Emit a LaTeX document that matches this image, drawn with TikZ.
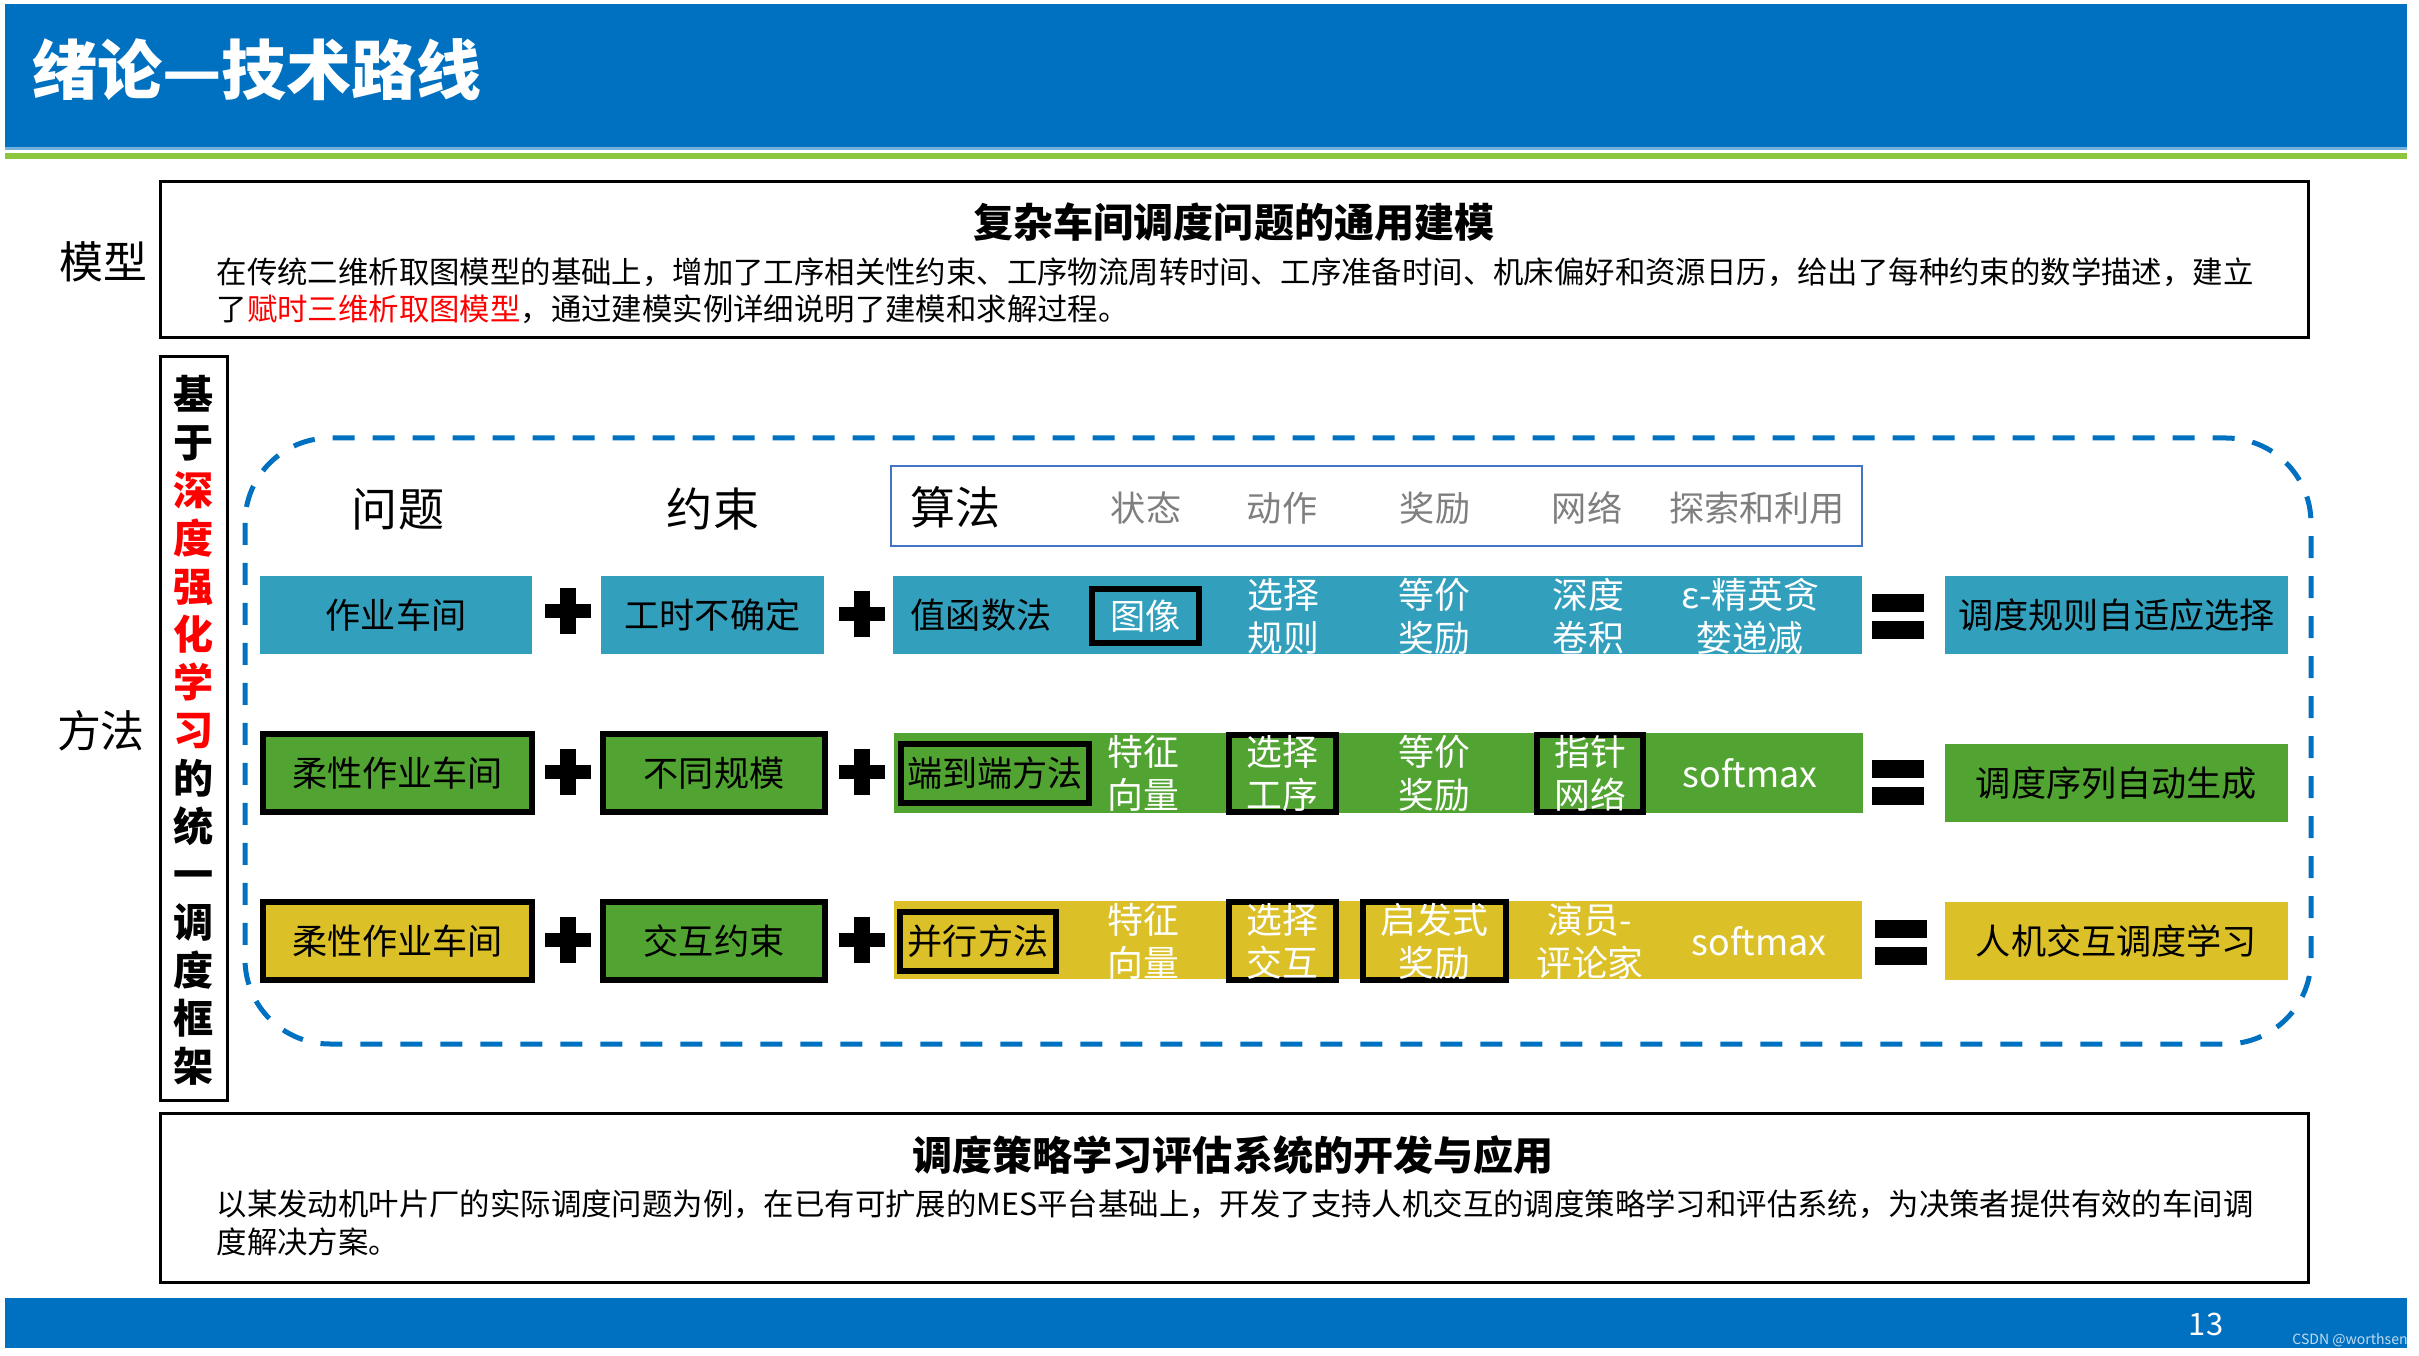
\documentclass[tikz,border=0pt]{standalone}
\usepackage{fontspec}
\setmainfont{Noto Sans CJK SC}
\usepackage{xcolor}
\usetikzlibrary{positioning}
\definecolor{hdrblue}{RGB}{0,112,192}
\definecolor{hdrgreen}{RGB}{140,198,63}
\definecolor{tealc}{RGB}{50,160,189}
\definecolor{greenc}{RGB}{82,164,50}
\definecolor{yellowc}{RGB}{220,192,40}
\definecolor{algoframe}{RGB}{68,114,196}
\definecolor{greytxt}{RGB}{127,127,127}
\tikzset{
  sidelabel/.style={font=\fontsize{12.5pt}{15pt}\selectfont},
  panel/.style={draw, line width=0.3mm, minimum width=214.8mm, inner sep=0},
  paneltitle/.style={font=\fontsize{11.4pt}{13.7pt}\selectfont\bfseries},
  paneltext/.style={align=left, anchor=west, inner sep=0, font=\fontsize{8.65pt}{10.5pt}\selectfont},
  colhead/.style={font=\fontsize{13.1pt}{15pt}\selectfont},
  algohead/.style={text=greytxt, font=\fontsize{10pt}{12pt}\selectfont},
  cell/.style={inner sep=0, minimum height=7.8mm, align=center, font=\fontsize{10pt}{12pt}\selectfont},
  framed/.style={draw=black, line width=0.6mm},
  item/.style={text=white, align=center, inner sep=0, font=\fontsize{10.2pt}{12.2pt}\selectfont},
  dashframe/.style={draw=hdrblue, line width=0.5mm, dash pattern=on 2.2mm off 1.8mm, rounded corners=8.5mm},
  every node/.style={inner sep=1pt}
}
\begin{document}
\begin{tikzpicture}[x=0.1mm,y=-0.1mm]
  \useasboundingbox (0,0) rectangle (2419,1356);
  % header and footer bands
  \fill[hdrblue] (5,4) rectangle (2407,149);
  \fill[hdrblue!55!white] (5,147) rectangle (2407,150);
  \fill[hdrgreen] (5,153) rectangle (2407,159);
  \node[anchor=west, text=white, font=\fontsize{18.5pt}{22pt}\selectfont\bfseries] (title) at (28,70) {绪论—技术路线};
  \fill[hdrblue] (5,1298) rectangle (2407,1348);
  \node[text=white, font=\fontsize{8.8pt}{10pt}\selectfont] (pagenum) at (2206,1324) {13};
  \node[text=white!75!hdrblue, font=\fontsize{4pt}{5pt}\selectfont] (mark) at (2350,1340) {CSDN @worthsen};

  % model panel
  \node[sidelabel] (lblmodel) at (103,262) {模型};
  \node[panel, minimum height=15.6mm] (modelbox) at (1234,260) {};
  \node[paneltitle] (modeltitle) at (1234,222) {复杂车间调度问题的通用建模};
  \node[paneltext] (modeltext) at (216,291) {在传统二维析取图模型的基础上，增加了工序相关性约束、工序物流周转时间、工序准备时间、机床偏好和资源日历，给出了每种约束的数学描述，建立\\了\textcolor{red}{赋时三维析取图模型}，通过建模实例详细说明了建模和求解过程。};

  % method panel
  \node[sidelabel] (lblmethod) at (101,731) {方法};
  \node[draw, line width=0.3mm, minimum width=6.7mm, minimum height=74.4mm, inner sep=0] (vbox) at (193.5,728) {};
  \node[align=center, font=\fontsize{11.4pt}{13.66pt}\selectfont\bfseries] (vtext) at (194,730)
    {基\\于\\\textcolor{red}{深}\\\textcolor{red}{度}\\\textcolor{red}{强}\\\textcolor{red}{化}\\\textcolor{red}{学}\\\textcolor{red}{习}\\的\\统\\一\\调\\度\\框\\架};
  \draw[dashframe] (245,438) rectangle (2311,1044);

  % column heads
  \node[colhead] (hproblem) at (398,509) {问题};
  \node[colhead] (hconstr) at (713,509) {约束};
  \node[draw=algoframe, line width=0.2mm, minimum width=97.1mm, minimum height=8mm, inner sep=0] (halgo) at (1376.5,506) {};
  \node[font=\fontsize{12.8pt}{15pt}\selectfont] (halgotxt) at (955,507) {算法};
  \foreach \x/\t/\n in {1146/状态/st, 1282/动作/ac, 1435/奖励/rw, 1587/网络/nt, 1757/探索和利用/ex}
    \node[algohead] (h-\n) at (\x,508) {\t};

  % row 1
  \node[cell, fill=tealc, minimum width=27.2mm] (p1) at (396,615) {作业车间};
  \node[cell, fill=tealc, minimum width=22.3mm] (c1) at (712.5,615) {工时不确定};
  \node[cell, fill=tealc, minimum width=96.9mm] (a1) at (1377.5,615) {};
  \node[cell, fill=tealc, minimum width=34.3mm] (r1) at (2116.5,615) {调度规则自适应选择};
  \node[cell] (a1m) at (981,615) {值函数法};
  \node[cell, framed, text=white, minimum width=10.7mm, minimum height=5.4mm] (a1s) at (1145.5,616) {图像};
  \foreach \x/\t/\n in {1283/{选择\\规则}/ac, 1434/{等价\\奖励}/rw, 1588/{深度\\卷积}/nt, 1750/{ε-精英贪\\婪递减}/ex}
    \node[item] (a1-\n) at (\x,616) {\t};

  % row 2
  \node[cell, framed, fill=greenc, minimum width=26.9mm] (p2) at (397.5,773) {柔性作业车间};
  \node[cell, framed, fill=greenc, minimum width=22.2mm] (c2) at (714,773) {不同规模};
  \node[cell, fill=greenc, minimum width=96.9mm, minimum height=8mm] (a2) at (1378.5,773) {};
  \node[cell, fill=greenc, minimum width=34.3mm] (r2) at (2116.5,783) {调度序列自动生成};
  \node[cell, framed, minimum width=18.8mm, minimum height=5.9mm] (a2m) at (995,773.5) {端到端方法};
  \node[cell, framed, text=white, minimum width=10.7mm, minimum height=7.7mm, font=\fontsize{10.2pt}{12.2pt}\selectfont] (a2a) at (1282.5,773.5) {选择\\工序};
  \node[cell, framed, text=white, minimum width=10.6mm, minimum height=7.7mm, font=\fontsize{10.2pt}{12.2pt}\selectfont] (a2n) at (1590,773.5) {指针\\网络};
  \foreach \x/\t/\n in {1143/{特征\\向量}/st, 1434/{等价\\奖励}/rw, 1750/softmax/ex}
    \node[item] (a2-\n) at (\x,773) {\t};

  % row 3
  \node[cell, framed, fill=yellowc, minimum width=26.9mm] (p3) at (397.5,941) {柔性作业车间};
  \node[cell, framed, fill=greenc, minimum width=22.2mm] (c3) at (714,941) {交互约束};
  \node[cell, fill=yellowc, minimum width=96.8mm] (a3) at (1378,940) {};
  \node[cell, fill=yellowc, minimum width=34.3mm] (r3) at (2116.5,941) {人机交互调度学习};
  \node[cell, framed, minimum width=15.6mm, minimum height=5.9mm] (a3m) at (978,941.5) {并行方法};
  \node[cell, framed, text=white, minimum width=10.7mm, font=\fontsize{10.2pt}{12.2pt}\selectfont] (a3a) at (1282.5,941) {选择\\交互};
  \node[cell, framed, text=white, minimum width=14.3mm, font=\fontsize{10.2pt}{12.2pt}\selectfont] (a3r) at (1434.5,941) {启发式\\奖励};
  \foreach \x/\t/\n in {1143/{特征\\向量}/st, 1590/{演员-\\评论家}/nt, 1759/softmax/ex}
    \node[item] (a3-\n) at (\x,941) {\t};

  % plus and equals signs
  \foreach \x/\y in {568/611, 862/614, 568/772, 862/772, 568/940, 862/940}{
    \fill (\x-23,\y-7) rectangle (\x+23,\y+7);
    \fill (\x-8,\y-23) rectangle (\x+8,\y+23);
  }
  \foreach \x/\y in {1898/616.5, 1898/782.5, 1901/942.5}{
    \fill (\x-26,\y-22.5) rectangle (\x+26,\y-4.5);
    \fill (\x-26,\y+4.5) rectangle (\x+26,\y+22.5);
  }

  % application panel
  \node[panel, minimum height=16.9mm] (appbox) at (1234,1197.5) {};
  \node[paneltitle] (apptitle) at (1233,1155) {调度策略学习评估系统的开发与应用};
  \node[paneltext, font=\fontsize{8.65pt}{10.8pt}\selectfont] (apptext) at (216,1223) {以某发动机叶片厂的实际调度问题为例，在已有可扩展的MES平台基础上，开发了支持人机交互的调度策略学习和评估系统，为决策者提供有效的车间调\\度解决方案。};
\end{tikzpicture}
\end{document}
